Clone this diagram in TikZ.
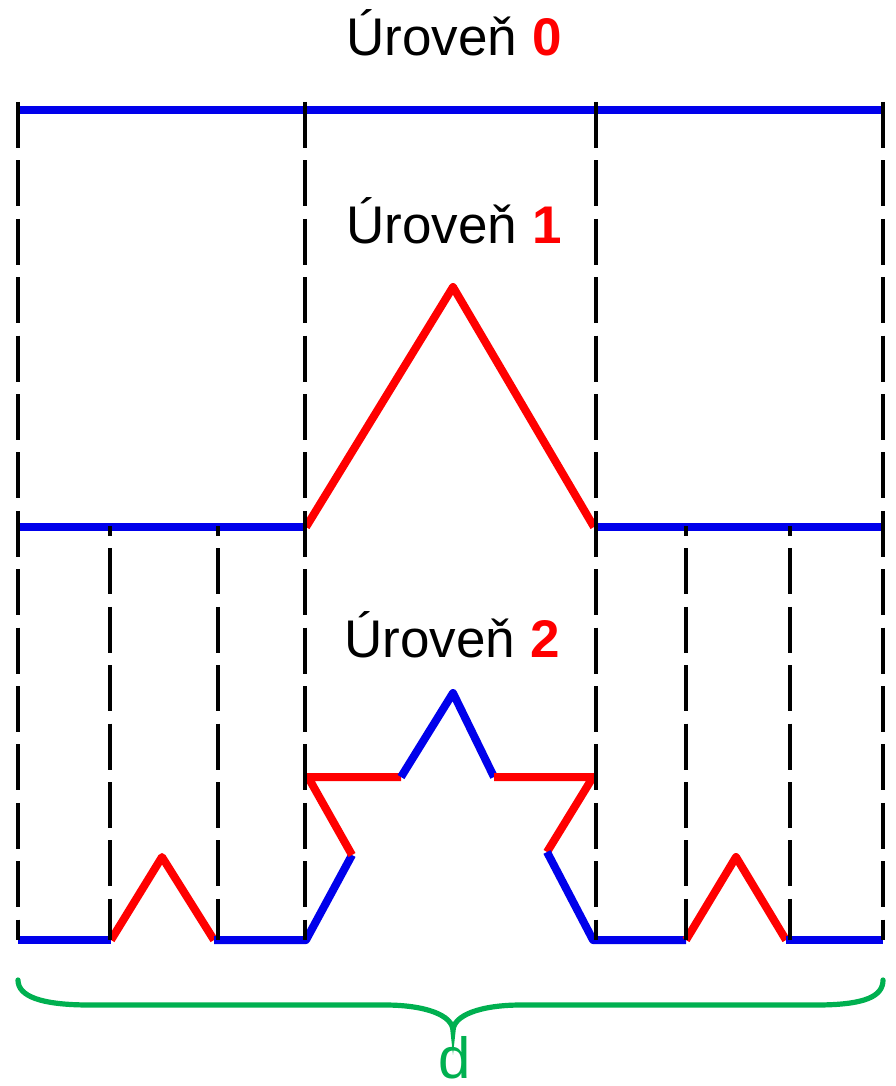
\documentclass[tikz,border=0pt]{standalone}
\usepackage{fontspec}
\setmainfont{Liberation Sans}
\definecolor{kochblue}{RGB}{0,0,235}
\definecolor{kochred}{RGB}{255,0,0}
\definecolor{bracegreen}{RGB}{0,176,80}

\tikzset{
  level/.style={line width=4pt, line join=round},
  guide/.style={black, line width=2pt, dash pattern=on 23pt off 6.2pt},
  title/.style={anchor=base, font=\fontsize{26.5}{30}\selectfont},
}

\begin{document}
\begin{tikzpicture}[x=0.5pt, y=-0.5pt]
\useasboundingbox (0,0) rectangle (895,1086);

% draw level 0
\draw[level, kochblue] (18,110) -- (883,110);

% draw level 1
\draw[level, kochblue] (18,527) -- (306,527);
\draw[level, kochred] (306,527) -- (453,287) -- (594,527);
\draw[level, kochblue] (594,527) -- (883,527);

% draw level 2
\draw[level, kochblue] (18,940) -- (111,940);
\draw[level, kochred] (111,940) -- (162,857) -- (214,940);
\draw[level, kochblue] (214,940) -- (306,940) -- (352,855);
\draw[level, kochred] (352,855) -- (308,777) -- (401,777);
\draw[level, kochblue] (401,777) -- (453,693) -- (494,777);
\draw[level, kochred] (494,777) -- (593,777) -- (547,852);
\draw[level, kochblue] (547,852) -- (593,940) -- (686,940);
\draw[level, kochred] (686,940) -- (736,857) -- (786,940);
\draw[level, kochblue] (786,940) -- (883,940);

% draw guides
\foreach \x in {18,305,596,883}
  \draw[guide] (\x,102) -- (\x,940);
\foreach \x in {110,218,686,790}
  \draw[guide, dash phase=18pt] (\x,526) -- (\x,940);

% labels
\node[title] (lvl0) at (454,56) {Úroveň \textcolor{kochred}{\textbf{0}}};
\node[title] (lvl1) at (454,243) {Úroveň \textcolor{kochred}{\textbf{1}}};
\node[title] (lvl2) at (452,657) {Úroveň \textcolor{kochred}{\textbf{2}}};

% draw brace
\coordinate (tip) at (453,1031);
\draw[bracegreen, line width=2.6pt, line cap=round]
  (18,980) .. controls (18,996) and (40,1005) .. (90,1005) -- (385,1005)
  .. controls (425,1005) and (453,1015) .. (tip)
  .. controls (453,1015) and (481,1005) .. (521,1005) -- (816,1005)
  .. controls (866,1005) and (883,996) .. (883,980);
\node[anchor=base, text=bracegreen, font=\fontsize{29}{32}\selectfont, inner sep=0pt] (dist) at (455,1078) {d};

\end{tikzpicture}
\end{document}
